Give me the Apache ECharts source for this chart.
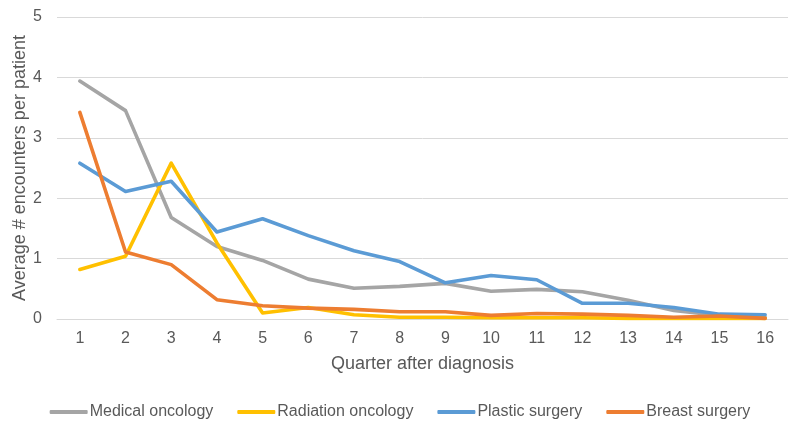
<!DOCTYPE html>
<html>
<head>
<meta charset="utf-8">
<script src="https://cdn.jsdelivr.net/npm/echarts@6/dist/echarts.min.js"></script>
<style>html,body{margin:0;padding:0;background:#fff}#c{width:800px;height:429px}</style>
</head>
<body>
<div id="c"></div>
<script>
var quarters = ['1','2','3','4','5','6','7','8','9','10','11','12','13','14','15','16'];
var medicalOncology = [3.94,3.45,1.68,1.2,0.97,0.66,0.51,0.54,0.59,0.46,0.49,0.45,0.31,0.14,0.06,0.03];
var radiationOncology = [0.82,1.04,2.58,1.26,0.1,0.19,0.07,0.03,0.03,0.02,0.02,0.02,0.01,0.01,0.01,0.01];
var plasticSurgery = [2.58,2.11,2.28,1.44,1.66,1.38,1.13,0.95,0.6,0.72,0.65,0.26,0.26,0.19,0.08,0.07];
var breastSurgery = [3.42,1.11,0.9,0.32,0.22,0.18,0.16,0.12,0.12,0.06,0.09,0.08,0.06,0.03,0.05,0.01];
var yTicks = [0,1,2,3,4,5];

var font = 'Liberation Sans, Arial, sans-serif';
var txt = '#595959';
function s(name, data, color) {
  return {name: name, type: 'line', data: data, symbol: 'none',
    lineStyle: {width: 3.6, color: color, cap: 'round', join: 'round'},
    itemStyle: {color: color}};
}
var chart = echarts.init(document.getElementById('c'), null, {renderer: 'canvas'});
chart.setOption({
  animation: false,
  textStyle: {fontFamily: font},
  grid: {left: 57, right: 12, top: 17, bottom: 110, outerBoundsMode: 'none', containLabel: false},
  legend: {
    bottom: 4, left: 'center', itemWidth: 38, itemHeight: 4, itemGap: 24,
    icon: 'roundRect',
    textStyle: {color: txt, fontSize: 16, fontFamily: font, padding: [0,0,0,-3]},
    data: ['Medical oncology','Radiation oncology','Plastic surgery','Breast surgery']
  },
  xAxis: {
    type: 'category', data: quarters, boundaryGap: true,
    name: 'Quarter after diagnosis', nameLocation: 'middle', nameGap: 36, nameMoveOverlap: false,
    nameTextStyle: {color: txt, fontSize: 18, fontFamily: font},
    axisLine: {show: true, lineStyle: {color: '#d9d9d9', width: 1}},
    axisTick: {show: false},
    axisLabel: {color: txt, fontSize: 16, fontFamily: font, margin: 12}
  },
  yAxis: {
    type: 'value', min: yTicks[0], max: yTicks[yTicks.length-1], interval: 1,
    name: 'Average # encounters per patient', nameLocation: 'middle', nameGap: 28, nameMoveOverlap: false,
    nameTextStyle: {color: txt, fontSize: 18, fontFamily: font},
    axisLine: {show: false}, axisTick: {show: false},
    axisLabel: {color: txt, fontSize: 16, fontFamily: font, margin: 15},
    splitLine: {lineStyle: {color: '#d9d9d9', width: 1}}
  },
  series: [
    s('Medical oncology', medicalOncology, '#A5A5A5'),
    s('Radiation oncology', radiationOncology, '#FFC000'),
    s('Plastic surgery', plasticSurgery, '#5B9BD5'),
    s('Breast surgery', breastSurgery, '#ED7D31')
  ]
});
</script>
</body>
</html>
